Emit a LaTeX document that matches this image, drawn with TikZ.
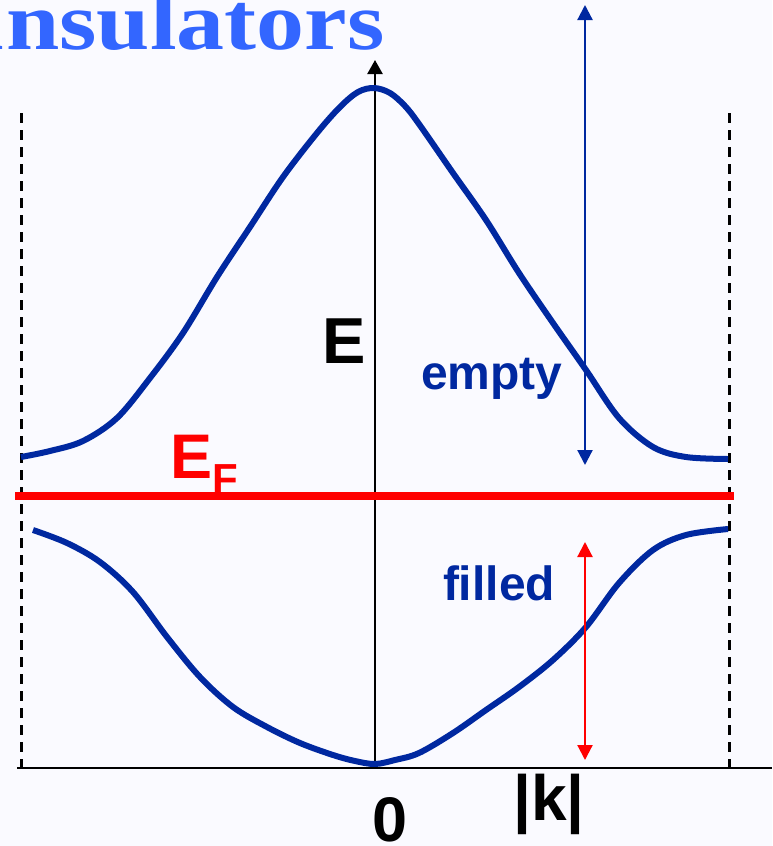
\documentclass[tikz,border=0pt]{standalone}
\usepackage{fontspec}
\setmainfont{Liberation Sans}
\newfontfamily\titlefont{Liberation Serif}
\usetikzlibrary{arrows.meta}
\definecolor{bandblue}{RGB}{0,40,160}
\definecolor{titleblue}{RGB}{51,102,255}
\definecolor{efred}{RGB}{255,0,0}
\tikzset{
  band/.style={bandblue, line width=6pt, line cap=butt, line join=round},
  axisline/.style={black, line width=2.4pt},
  zone/.style={black, line width=3pt, dash pattern=on 10pt off 7pt},
  lbl/.style={inner sep=0pt, outer sep=0pt, font=\bfseries},
}
\begin{document}
\begin{tikzpicture}[x=1pt,y=-1pt]
\useasboundingbox (0,0) rectangle (772,846);
\clip (0,0) rectangle (772,846);
\fill[white!98!blue] (0,0) rectangle (772,846);
% title
\node[inner sep=0pt, anchor=base east, text=titleblue, xscale=1.17]
  (title) at (385,49) {\titlefont\bfseries\fontsize{82}{90}\selectfont Insulators};
% coordinates
\coordinate (origin) at (375,768);
\coordinate (etop) at (375,60);
\coordinate (kleft) at (17,768);
\coordinate (kright) at (772,768);
\coordinate (zl1) at (21,113);
\coordinate (zl2) at (21,768);
\coordinate (zr1) at (729,113);
\coordinate (zr2) at (729,768);
\coordinate (efl) at (15,496);
\coordinate (efr) at (734,496);
\coordinate (ctop) at (585,5);
\coordinate (cbot) at (585,465);
\coordinate (vtop) at (585,542);
\coordinate (vbot) at (585,760);
% dashed zone boundaries
\draw[zone] (zl1) -- (zl2);
\draw[zone] (zr1) -- (zr2);
% axes
\draw[axisline] (kleft) -- (kright);
\draw[axisline, -{Triangle[length=14pt,width=15pt]}] (origin) -- (etop);
% Fermi level
\draw[efred, line width=8pt] (efl) -- (efr);
% conduction band
\draw[band] plot[smooth, tension=0.55] coordinates {
 (21,457) (50,451) (83,441) (117,418) (150,378) (183,333) (217,277)
 (250,227) (283,177) (317,133) (340,107) (358,92) (374,88) (390,93)
 (405,106) (419,124)
 (453,173) (486,220) (519,273) (553,323) (586,370) (619,418) (653,447)
 (686,457) (728,459)};
% valence band
\draw[band] plot[smooth, tension=0.55] coordinates {
 (33,530) (67,543) (100,562) (133,592) (167,637) (200,677) (233,707)
 (267,727) (300,743) (333,755) (355,761) (375,764) (395,760) (419,753) (453,733) (486,710)
 (519,687) (553,660) (586,627) (619,583) (653,550) (686,535) (728,529)};
% double arrows
\draw[bandblue, line width=2.2pt, {Triangle[length=15pt,width=15pt]}-{Triangle[length=15pt,width=15pt]}] (ctop) -- (cbot);
\draw[efred, line width=2.2pt, {Triangle[length=15pt,width=15pt]}-{Triangle[length=15pt,width=15pt]}] (vtop) -- (vbot);
% labels
\node[lbl, anchor=base west, text=black] (elabel) at (322,363) {\fontsize{65}{70}\selectfont E};
\node[lbl, anchor=base west, text=efred] (eflabel) at (170,478)
  {\fontsize{63}{70}\selectfont E\raisebox{-15pt}{\fontsize{42}{45}\selectfont F}};
\node[lbl, anchor=base west, text=bandblue] (empty) at (421,389) {\fontsize{48}{55}\selectfont empty};
\node[lbl, anchor=base west, text=bandblue] (filled) at (443,600) {\fontsize{48}{55}\selectfont filled};
\node[lbl, anchor=base, text=black] (zero) at (390,841) {\fontsize{63}{70}\selectfont 0};
\node[lbl, anchor=base, text=black] (klabel) at (549,820) {\fontsize{64}{70}\selectfont |k|};
\end{tikzpicture}
\end{document}
